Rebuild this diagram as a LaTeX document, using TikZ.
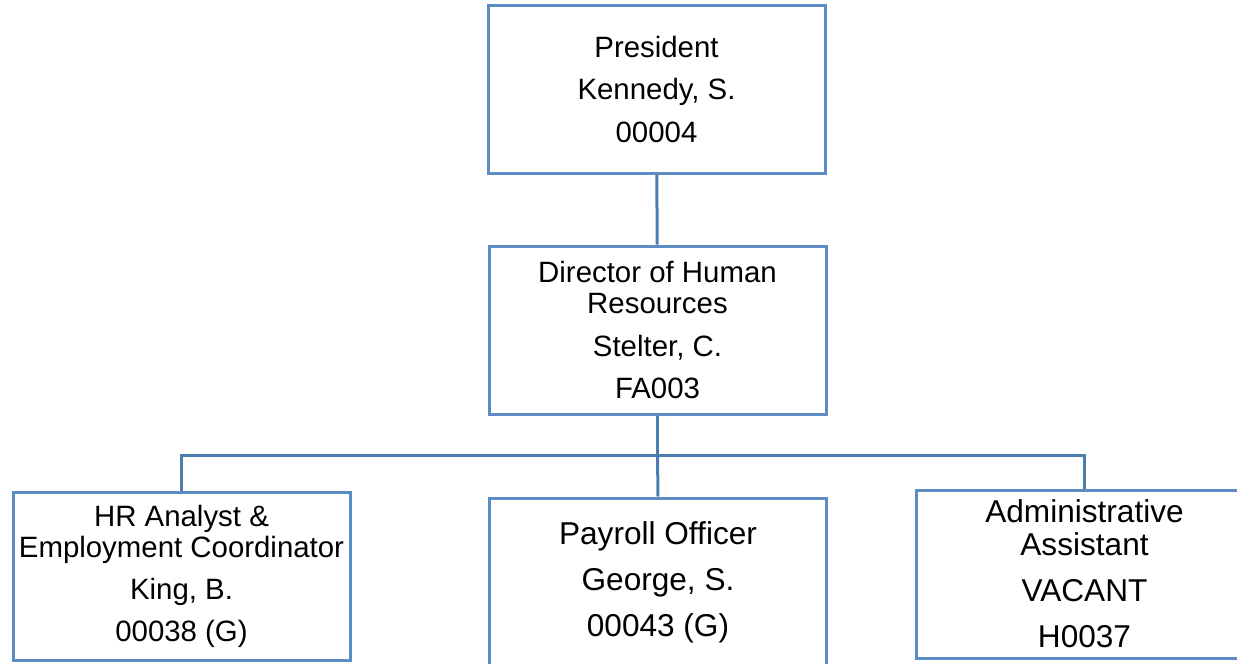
\documentclass[tikz,border=0pt]{standalone}
\usepackage{fontspec}
\setmainfont{Liberation Sans}
\usepackage{xcolor}
\definecolor{boxblue}{RGB}{91,140,196}
\definecolor{linkblue}{RGB}{74,126,176}

\tikzset{
  posbox/.style={draw=boxblue, line width=1.5pt, fill=white, align=center,
    minimum width=168.5pt, minimum height=84pt, inner sep=0pt},
  smalltext/.style={font=\fontsize{14.7}{15.5}\selectfont},
  bigtext/.style={font=\fontsize{15.8}{16.5}\selectfont},
  link/.style={draw=linkblue, line width=1.5pt}
}

\begin{document}
\begin{tikzpicture}[x=0.5pt, y=-0.5pt]
  \useasboundingbox (0,0) rectangle (1237,664);

  % Top levels
  \node[posbox, smalltext] (pres) at (656.5,89)
    {President\\[5.75pt]Kennedy, S.\\[5.75pt]00004};
  \node[posbox, smalltext] (dir) at (657.5,330)
    {Director of Human\\Resources\\[5.75pt]Stelter, C.\\[5.75pt]FA003};

  % Staff row
  \node[posbox, smalltext] (hr) at (181.5,576)
    {HR Analyst \&\\Employment Coordinator\\[5.5pt]King, B.\\[5.5pt]00038 (G)};
  \node[posbox, bigtext] (pay) at (658,582)
    {Payroll Officer\\[6.5pt]George, S.\\[6.5pt]00043 (G)};
  \node[posbox, bigtext] (adm) at (1084.5,574)
    {Administrative\\Assistant\\[6.5pt]VACANT\\[6.5pt]H0037};

  % Draw connectors
  \coordinate (bus) at (657.5,455);
  \draw[link] (pres) -- (dir);
  \draw[link] (dir.south) -- (bus);
  \draw[link] (hr.north) -- (hr.north |- bus) -- (adm.north |- bus) -- (adm.north);
  \draw[link] (bus) -- (pay.north);
\end{tikzpicture}
\end{document}
